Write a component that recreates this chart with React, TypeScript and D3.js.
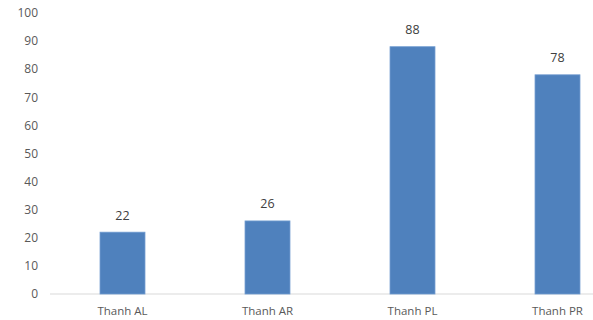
import React from 'react';
import * as d3 from 'd3';

const categories = ['Thanh AL', 'Thanh AR', 'Thanh PL', 'Thanh PR'];
const values = [22, 26, 88, 78];
const yTicks = [0, 10, 20, 30, 40, 50, 60, 70, 80, 90, 100];

const W = 593;
const H = 320;
const font = "'Open Sans', 'Liberation Sans', sans-serif";
const textColor = '#595959';

export default function App() {
  // plot area runs past the right edge, like the cropped original
  const x = d3.scaleBand<string>()
    .domain(categories)
    .range([50, 630])
    .paddingInner(0.69)
    .paddingOuter(0.345);

  const y = d3.scaleLinear().domain([0, 100]).range([294, 13]);

  return (
    <svg width={W} height={H} style={{ position: 'absolute', left: 0, top: 0, background: '#fff' }}>
      {/* y tick labels */}
      {yTicks.map(t => (
        <text key={t} x={38} y={y(t)} dy="0.35em" textAnchor="end"
          fontFamily={font} fontSize={12} fill={textColor}>{t}</text>
      ))}

      {/* baseline */}
      <line x1={50} x2={W} y1={y(0)} y2={y(0)} stroke="#d9d9d9" strokeWidth={1} />

      {/* bars */}
      {categories.map((c, i) => (
        <g key={c}>
          <rect x={x(c)} y={y(values[i])} width={x.bandwidth()} height={y(0) - y(values[i])}
            fill="#4f81bd" stroke="#6f9bd0" strokeWidth={0.8} />
          <text x={x(c)! + x.bandwidth() / 2} y={y(values[i]) - 17} dy="0.35em" textAnchor="middle"
            fontFamily={font} fontSize={12.5} fill="#404040">{values[i]}</text>
          <text x={x(c)! + x.bandwidth() / 2} y={311} dy="0.35em" textAnchor="middle"
            fontFamily={font} fontSize={11.5} fill={textColor}>{c}</text>
        </g>
      ))}
    </svg>
  );
}
